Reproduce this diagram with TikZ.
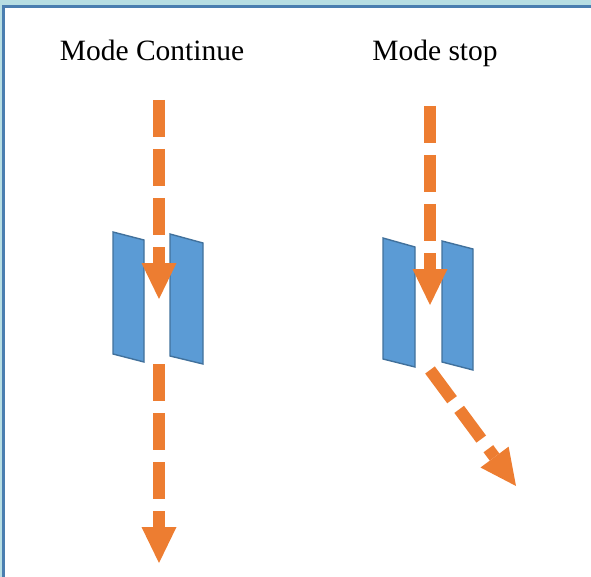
\documentclass[tikz,border=0pt]{standalone}
\usepackage{fontspec}
\setmainfont{Liberation Serif}
\usetikzlibrary{arrows.meta}
\definecolor{flowor}{HTML}{ED7D31}
\definecolor{platefill}{HTML}{5B9BD5}
\definecolor{plateline}{HTML}{41719C}
\definecolor{frameband}{HTML}{B7DEE3}
\definecolor{frameline}{HTML}{4A7EB0}
\tikzset{
  flow/.style={draw=flowor, line width=12pt, dash pattern=on 37pt off 12pt,
    -{Triangle[width=35pt,length=36pt,line width=0pt]}},
  plate/.style={fill=platefill, draw=plateline, line width=1.4pt, line join=miter},
  title/.style={font=\fontsize{29.5pt}{32pt}\selectfont, anchor=base, inner sep=0pt}
}
\begin{document}
\begin{tikzpicture}[x=1pt,y=-1pt]
\useasboundingbox (0,0) rectangle (591,577);
% frame
\fill[frameband] (0,0) rectangle (591,5.5);
\fill[frameband] (0,0) rectangle (2,577);
\draw[frameline, line width=3pt] (3.8,577) -- (3.8,6.8) -- (591,6.8);
% titles
\node[title] (t1) at (152,61) {Mode Continue};
\node[title] (t2) at (435,61) {Mode stop};
% left plates
\draw[plate] (113,232) -- (144,240) -- (144,362) -- (113,354) -- cycle;
\draw[plate] (170,234) -- (203,243) -- (203,364) -- (170,356) -- cycle;
% right plates
\draw[plate] (383,238) -- (415,247) -- (415,367) -- (383,359) -- cycle;
\draw[plate] (442,241) -- (473,249) -- (473,370) -- (442,362) -- cycle;
% arrow end points
\coordinate (a1s) at (159,100);
\coordinate (a1e) at (159,299);
\coordinate (a2s) at (159,364);
\coordinate (a2e) at (159,563);
\coordinate (b1s) at (430,106);
\coordinate (b1e) at (430,305);
\coordinate (b2s) at (430,370);
\coordinate (b2e) at (516,486);
\draw[flow] (a1s) -- (a1e);
\draw[flow] (a2s) -- (a2e);
\draw[flow] (b1s) -- (b1e);
\draw[flow] (b2s) -- (b2e);
\end{tikzpicture}
\end{document}
